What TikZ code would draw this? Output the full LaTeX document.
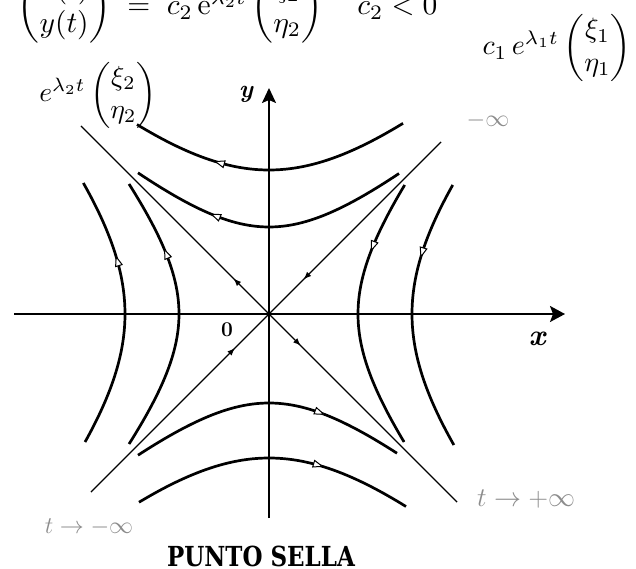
\RequirePackage{fix-cm}
\documentclass[tikz,border=0pt]{standalone}
\usepackage{amsmath}
\usepackage{graphicx}
\usepackage{fontspec}
\newfontfamily\slabfont{DejaVu Serif}
\usetikzlibrary{arrows.meta,decorations.markings}
\tikzset{
  traj/.style={line width=2.7pt, postaction={decorate}},
  diagline/.style={line width=1.4pt, postaction={decorate}},
  axisline/.style={line width=1.9pt},
  curvetip/.style={decoration={markings, mark=at position #1 with {\arrow{Triangle[length=11pt,width=8pt,fill=white,line width=1pt]}}}},
  diagtip/.style={decoration={markings, mark=at position #1 with {\arrow{Latex[length=8pt,width=6pt]}}}},
  graylab/.style={text=black!45},
}
\begin{document}
\begin{tikzpicture}[x=1pt,y=-1pt]
\useasboundingbox (0,0) rectangle (636,569);
% top formula (cropped)
\node[anchor=base west, inner sep=0] (eq) at (17,15) {\scalebox{2.95}{\setlength{\arraycolsep}{7pt}$\begin{pmatrix}x(t)\\y(t)\end{pmatrix}\;=\;c_2\,\mathrm{e}^{\lambda_2t}\begin{pmatrix}\xi_2\\\eta_2\end{pmatrix}\quad c_2<0$}};
% axes
\coordinate (xl) at (14,314);
\coordinate (xr) at (565,314);
\coordinate (yb) at (269,518);
\coordinate (yt) at (269,88);
\draw[axisline, -{Stealth[length=15pt,width=16pt,inset=3pt]}] (xl) -- (xr);
\draw[axisline, -{Stealth[length=15pt,width=14pt,inset=3pt]}] (yb) -- (yt);
\begin{scope}[shift={(269pt,-314pt)}, x=10pt, y=-10pt]
  \coordinate (O) at (0,0);
  \coordinate (ul) at (-18.8,-18.8);
  \coordinate (ur) at (17.2,-17.2);
  \coordinate (dl) at (-17.8,17.8);
  \coordinate (dr) at (18.8,18.8);
  % separatrices
  \draw[diagline, diagtip=0.19] (O) -- (ul);
  \draw[diagline, diagtip=0.17] (O) -- (dr);
  \draw[diagline, diagtip=0.80] (ur) -- (O);
  \draw[diagline, diagtip=0.81] (dl) -- (O);
  % right branches (moving down)
  \draw[traj, curvetip=0.27] plot[domain=-12.9:12.8, samples=60, variable=\t] ({sqrt(79.21+0.63*\t*\t)}, {\t});
  \draw[traj, curvetip=0.29] plot[domain=-12.9:13.1, samples=60, variable=\t] ({sqrt(204.49+0.80*\t*\t)}, {\t});
  % left branches (moving up)
  \draw[traj, curvetip=0.74] plot[domain=13:-13, samples=60, variable=\t] ({-sqrt(81+0.68*\t*\t)}, {\t});
  \draw[traj, curvetip=0.71] plot[domain=12.8:-13.1, samples=60, variable=\t] ({-sqrt(207.36+0.8*\t*\t)}, {\t});
  % top branches (moving left)
  \draw[traj, curvetip=0.71] plot[domain=13:-13.1, samples=60, variable=\t] ({\t}, {-sqrt(75.69+0.72*\t*\t)});
  \draw[traj, curvetip=0.70] plot[domain=13.4:-13.2, samples=60, variable=\t] ({\t}, {-sqrt(207.36+0.87*\t*\t)});
  % bottom branches (moving right)
  \draw[traj, curvetip=0.71] plot[domain=-13.1:12.8, samples=60, variable=\t] ({\t}, {sqrt(79.21+0.70*\t*\t)});
  \draw[traj, curvetip=0.68] plot[domain=-13:13.7, samples=60, variable=\t] ({\t}, {sqrt(207.36+0.87*\t*\t)});
\end{scope}
% axis labels
\node (ylab) at (246,94) {\fontsize{25}{25}\selectfont\bfseries\itshape y};
\node (xlab) at (537,339) {\fontsize{30}{30}\selectfont\bfseries\itshape x};
\node (olab) at (227,330) {\fontsize{21}{21}\selectfont\bfseries 0};
% eigen-labels
\node (lab2) at (98,95) {\scalebox{2.75}{$e^{\lambda_2 t}\begin{pmatrix}\xi_2\\ \eta_2\end{pmatrix}$}};
\node (lab1) at (557,48) {\scalebox{2.8}{$c_1\,e^{\lambda_1 t}\begin{pmatrix}\xi_1\\ \eta_1\end{pmatrix}$}};
\node[graylab] (minf) at (488,121) {\fontsize{24}{24}\selectfont $-\infty$};
\node[graylab] (tminus) at (89,527) {\fontsize{24}{24}\selectfont $t\to-\infty$};
\node[graylab] (tplus) at (526,499) {\fontsize{27}{27}\selectfont $t\to+\infty$};
% title
\node (title) at (261,556) {\scalebox{1}[1.2]{\fontsize{23}{23}\selectfont\slabfont\bfseries PUNTO SELLA}};
\end{tikzpicture}
\end{document}
